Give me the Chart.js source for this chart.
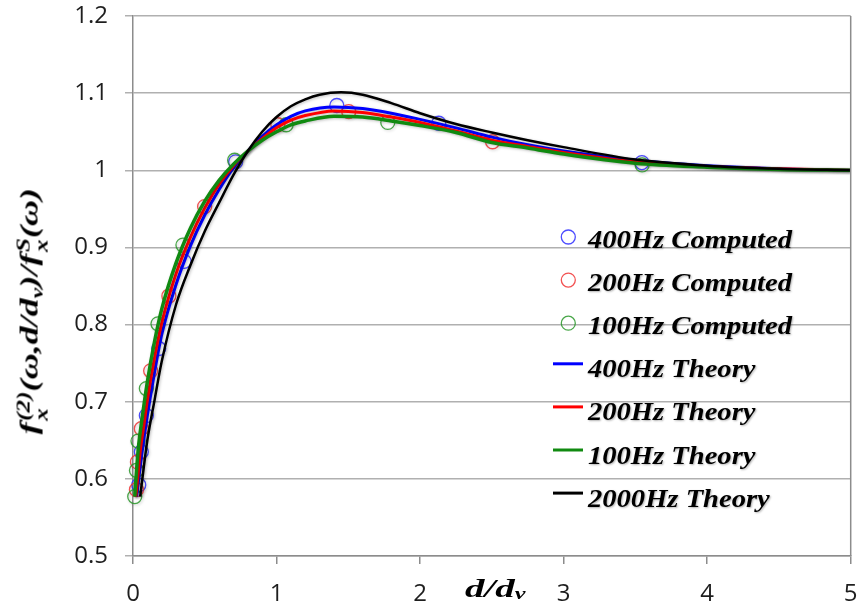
<!DOCTYPE html>
<html><head><meta charset="utf-8">
<script src="https://cdn.jsdelivr.net/npm/chart.js@4.4.1/dist/chart.umd.min.js"></script>
<style>
html,body{margin:0;padding:0;background:#fff;}
#wrap{position:relative;width:859px;height:614px;overflow:hidden;background:#fff;}
#c{position:absolute;left:0;top:0;}
.ttl{position:absolute;left:0;top:0;font-family:'Liberation Serif','Times New Roman',serif;font-weight:bold;font-style:italic;font-size:26px;white-space:nowrap;color:#000;line-height:1;transform-origin:50% 50%;}
.ss{display:inline-flex;flex-direction:column;font-size:0.7em;line-height:1;vertical-align:0.42em;margin-left:1px;}
.sb{font-size:0.66em;vertical-align:-0.3em;line-height:0;}
#xtitle .sb{vertical-align:-0.15em;font-size:0.62em;}
</style></head>
<body>
<div id="wrap">
<canvas id="c" width="859" height="614"></canvas>
<div id="ytitle" class="ttl">f<span class="ss"><span>(2)</span><span>x</span></span>(ω,d/d<span class="sb">v</span>)/f<span class="ss"><span>S</span><span>x</span></span>(ω)</div>
<div id="xtitle" class="ttl">d/d<span class="sb">v</span></div>
</div>
<script>
// ---- Data ----
const xTicks = [0, 1, 2, 3, 4, 5];
const yTicks = [0.5, 0.6, 0.7, 0.8, 0.9, 1.0, 1.1, 1.2];

// Computed (circles)
const comp400X = [0.040, 0.058, 0.093, 0.179, 0.356, 0.715, 1.42, 2.13, 3.545];
const comp400Y = [0.592, 0.635, 0.682, 0.769, 0.882, 1.011, 1.084, 1.061, 1.010];
const comp200X = [0.024, 0.031, 0.058, 0.123, 0.250, 0.499, 1.009, 1.503, 2.505];
const comp200Y = [0.586, 0.622, 0.665, 0.740, 0.837, 0.953, 1.059, 1.076, 1.037];
const comp100X = [0.012, 0.024, 0.035, 0.093, 0.174, 0.348, 0.708, 1.067, 1.775, 3.547];
const comp100Y = [0.577, 0.611, 0.649, 0.717, 0.801, 0.903, 1.013, 1.059, 1.062, 1.007];

// Theory (lines)
const th400X = [0.025, 0.04, 0.06, 0.1, 0.15, 0.2, 0.3, 0.4, 0.5, 0.6, 0.7, 0.8, 0.9, 1.0, 1.1, 1.2, 1.4, 1.6, 1.8, 2.0, 2.25, 2.5, 2.75, 3.0, 3.5, 4.0, 4.5, 5.0];
const th400Y = [0.577, 0.600, 0.630, 0.682, 0.738, 0.787, 0.852, 0.902, 0.942, 0.975, 1.003, 1.025, 1.044, 1.059, 1.070, 1.077, 1.082, 1.080, 1.074, 1.066, 1.055, 1.043, 1.033, 1.025, 1.013, 1.006, 1.002, 1.000];
const th200X = [0.02, 0.035, 0.05, 0.08, 0.1, 0.15, 0.2, 0.3, 0.4, 0.5, 0.6, 0.7, 0.8, 0.9, 1.0, 1.1, 1.2, 1.4, 1.6, 1.8, 2.0, 2.25, 2.5, 2.75, 3.0, 3.5, 4.0, 4.5, 5.0];
const th200Y = [0.577, 0.605, 0.635, 0.675, 0.702, 0.757, 0.802, 0.866, 0.913, 0.951, 0.982, 1.006, 1.025, 1.041, 1.055, 1.065, 1.071, 1.077, 1.075, 1.069, 1.062, 1.051, 1.039, 1.031, 1.023, 1.011, 1.005, 1.002, 1.000];
const th100X = [0.012, 0.025, 0.04, 0.06, 0.1, 0.15, 0.2, 0.3, 0.4, 0.5, 0.6, 0.7, 0.8, 0.9, 1.0, 1.1, 1.2, 1.4, 1.6, 1.8, 2.0, 2.25, 2.5, 2.75, 3.0, 3.5, 4.0, 4.5, 5.0];
const th100Y = [0.577, 0.612, 0.645, 0.674, 0.726, 0.778, 0.820, 0.880, 0.925, 0.960, 0.987, 1.008, 1.025, 1.039, 1.050, 1.059, 1.064, 1.070, 1.069, 1.064, 1.058, 1.049, 1.036, 1.029, 1.021, 1.009, 1.004, 1.001, 1.000];
const th2000X = [0.05, 0.075, 0.1, 0.15, 0.2, 0.3, 0.4, 0.5, 0.6, 0.7, 0.8, 0.9, 1.0, 1.1, 1.2, 1.3, 1.45, 1.6, 1.8, 2.0, 2.25, 2.5, 2.75, 3.0, 3.5, 4.0, 4.5, 5.0];
const th2000Y = [0.577, 0.615, 0.650, 0.702, 0.752, 0.826, 0.877, 0.921, 0.958, 0.994, 1.025, 1.050, 1.069, 1.083, 1.092, 1.098, 1.101, 1.098, 1.087, 1.074, 1.060, 1.049, 1.039, 1.030, 1.014, 1.006, 1.002, 1.000];

const labels = ['400Hz Computed', '200Hz Computed', '100Hz Computed', '400Hz Theory', '200Hz Theory', '100Hz Theory', '2000Hz Theory'];

const toXY = (xs, ys) => xs.map((x, i) => ({x: x, y: ys[i]}));

function circleSet(label, xs, ys, color, order) {
  return {label, data: toXY(xs, ys), showLine: false, pointStyle: 'circle', pointRadius: 7,
    pointBorderWidth: 1.3, pointBorderColor: color, pointBackgroundColor: 'rgba(0,0,0,0)',
    pointHoverRadius: 7, borderColor: color, backgroundColor: 'rgba(0,0,0,0)', clip: false, order};
}
function lineSet(label, xs, ys, color, width, order) {
  return {label, data: toXY(xs, ys), showLine: true, pointRadius: 0, pointHoverRadius: 0,
    borderColor: color, borderWidth: width, backgroundColor: color, fill: false,
    cubicInterpolationMode: 'monotone', order};
}

const datasets = [
  circleSet(labels[0], comp400X, comp400Y, 'rgba(45,45,255,0.85)', 6),
  circleSet(labels[1], comp200X, comp200Y, 'rgba(240,50,50,0.85)', 5),
  circleSet(labels[2], comp100X, comp100Y, 'rgba(40,150,40,0.85)', 4),
  lineSet(labels[3], th400X, th400Y, '#0000ff', 3, 3),
  lineSet(labels[4], th200X, th200Y, '#ff0000', 3, 2),
  lineSet(labels[5], th100X, th100Y, '#108a10', 3.5, 1),
  lineSet(labels[6], th2000X, th2000Y, '#000000', 2.5, 0)
];

const shadowPlugin = {
  id: 'softShadow',
  beforeDatasetDraw(chart) {
    const ctx = chart.ctx;
    ctx.save();
    ctx.shadowColor = 'rgba(0,0,0,0.25)';
    ctx.shadowBlur = 3;
    ctx.shadowOffsetX = 1;
    ctx.shadowOffsetY = 1;
  },
  afterDatasetDraw(chart) { chart.ctx.restore(); }
};

const framePlugin = {
  id: 'frame',
  afterDraw(chart) {
    const {ctx, chartArea: a} = chart;
    ctx.save();
    ctx.strokeStyle = '#8c8c8c';
    ctx.lineWidth = 1.5;
    ctx.beginPath();
    ctx.moveTo(a.right, a.top);
    ctx.lineTo(a.right, a.bottom);
    ctx.stroke();
    ctx.restore();
  }
};

const legendPlugin = {
  id: 'inLegend',
  afterDraw(chart) {
    const ctx = chart.ctx;
    ctx.save();
    ctx.font = 'italic bold 26px "Liberation Serif", "Times New Roman", serif';
    ctx.textBaseline = 'alphabetic';
    ctx.textAlign = 'left';
    const sx = 204 / ctx.measureText(labels[0]).width;
    const x0 = 588, y0 = 248, dy = 43.1;
    chart.data.datasets.forEach((ds, i) => {
      const base = y0 + i * dy;
      ctx.save();
      if (ds.showLine === false) {
        ctx.strokeStyle = ds.pointBorderColor;
        ctx.lineWidth = 1.3;
        ctx.beginPath();
        ctx.arc(568.3, base - 11, 7, 0, Math.PI * 2);
        ctx.stroke();
      } else {
        ctx.strokeStyle = ds.borderColor;
        ctx.lineWidth = 3;
        ctx.beginPath();
        ctx.moveTo(553, base - 13.5);
        ctx.lineTo(583, base - 13.5);
        ctx.stroke();
      }
      ctx.shadowColor = 'rgba(0,0,0,0.3)';
      ctx.shadowBlur = 2;
      ctx.shadowOffsetX = 1;
      ctx.shadowOffsetY = 1;
      ctx.fillStyle = '#000';
      ctx.translate(x0, base);
      ctx.scale(sx, 1);
      ctx.fillText(ds.label, 0, 0);
      ctx.restore();
    });
    ctx.restore();
  }
};

const tickFont = {family: '"Open Sans", "Noto Sans", sans-serif', size: 24};

new Chart(document.getElementById('c'), {
  type: 'scatter',
  data: {datasets},
  options: {
    responsive: false,
    animation: false,
    events: [],
    layout: {padding: {left: 0, top: 16, right: 7, bottom: 0}},
    plugins: {legend: {display: false}, tooltip: {enabled: false}, title: {display: false}},
    scales: {
      x: {
        type: 'linear', min: xTicks[0], max: xTicks[xTicks.length - 1],
        afterBuildTicks: s => { s.ticks = xTicks.map(v => ({value: v})); },
        afterFit: s => { s.height = 58; s.paddingLeft = 0; s.paddingRight = 0; s.paddingTop = 0; s.paddingBottom = 0; },
        ticks: {font: tickFont, color: '#1e1e1e', padding: 16, maxRotation: 0, autoSkip: false,
          callback: v => String(v)},
        grid: {drawOnChartArea: false, drawTicks: true, tickLength: 8, color: '#8c8c8c', lineWidth: 1.5},
        border: {display: true, color: '#8c8c8c', width: 1.5}
      },
      y: {
        type: 'linear', min: yTicks[0], max: yTicks[yTicks.length - 1],
        afterBuildTicks: s => { s.ticks = yTicks.map(v => ({value: v})); },
        afterFit: s => { s.width = 133; s.paddingLeft = 0; s.paddingRight = 0; s.paddingTop = 0; s.paddingBottom = 0; },
        ticks: {font: tickFont, color: '#1e1e1e', padding: 17, autoSkip: false,
          callback: v => String(Math.round(v * 10) / 10)},
        grid: {drawOnChartArea: true, drawTicks: true, tickLength: 8, color: '#b0b0b0', lineWidth: 1.5},
        border: {display: true, color: '#8c8c8c', width: 1.5}
      }
    }
  },
  plugins: [shadowPlugin, framePlugin, legendPlugin]
});

// ---- axis titles (HTML text) ----
function placeTitle(el, cx, cy, targetLen, rotate) {
  const w = el.offsetWidth, h = el.offsetHeight;
  el.style.left = (cx - w / 2) + 'px';
  el.style.top = (cy - h / 2) + 'px';
  const s = targetLen / w;
  el.style.transform = (rotate ? 'rotate(-90deg) ' : '') + 'scaleX(' + s + ')';
}
placeTitle(document.getElementById('ytitle'), 33, 311, 247, true);
placeTitle(document.getElementById('xtitle'), 495, 589, 60, false);
</script>
</body></html>
